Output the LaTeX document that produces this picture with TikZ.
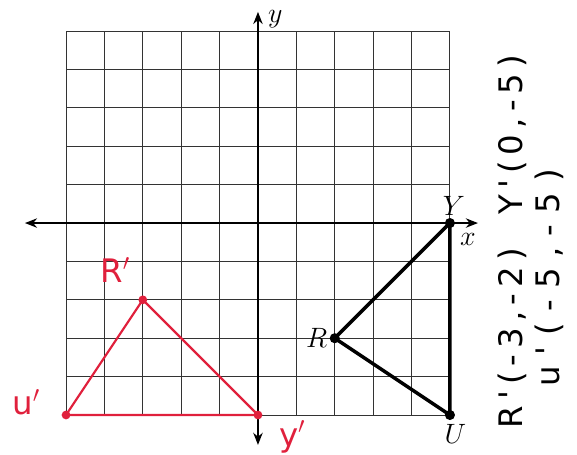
\documentclass[tikz,border=0pt]{standalone}
\usepackage{fontspec}
\newfontfamily\handfont{DejaVu Sans}
\newfontfamily\notefont[LetterSpace=19]{DejaVu Sans}
\usetikzlibrary{arrows.meta, positioning}
\definecolor{inkred}{HTML}{E0203C}
\definecolor{gridgray}{HTML}{333333}

\begin{document}
\begin{tikzpicture}[
    line width=0.9pt,
    gridln/.style={draw=gridgray, line width=0.7pt},
    axis/.style={black, line width=1.1pt,
                 {Stealth[length=9pt, width=7pt]}-{Stealth[length=9pt, width=7pt]}},
    dot/.style={circle, fill=black, inner sep=0pt, minimum size=7.5pt},
    rdot/.style={circle, fill=inkred, inner sep=0pt, minimum size=6.5pt},
    ptlbl/.style={font=\huge, inner sep=1pt},
    hand/.style={text=inkred, font=\handfont\fontsize{24}{26}\selectfont},
    note/.style={rotate=90, font=\notefont\fontsize{24}{26}\selectfont},
  ]
  \useasboundingbox (-6.72,-6.02) rectangle (8.31,5.81);

  % ===== grid and axes =====
  \foreach \i in {-5,...,5} {
    \draw[gridln] (\i,-5) -- (\i,5);
    \draw[gridln] (-5,\i) -- (5,\i);
  }
  \coordinate (xl) at (-6.07,0);
  \coordinate (xr) at (5.73,0);
  \coordinate (yb) at (0,-5.78);
  \coordinate (yt) at (0,5.5);
  \draw[axis] (xl) -- (xr);
  \draw[axis] (yb) -- (yt);
  \node[ptlbl] (xlbl) at (5.47,-0.44) {$x$};
  \node[ptlbl] (ylbl) at (0.45,5.3) {$y$};

  % ===== triangle RYU =====
  \node[dot] (Y) at (5,0) {};
  \node[dot] (R) at (2,-3) {};
  \node[dot] (U) at (5,-5) {};
  \draw[line width=2.6pt, line join=round] (Y.center) -- (R.center) -- (U.center) -- cycle;
  \node[ptlbl, above=0pt of Y, xshift=3pt] (Ylbl) {$Y$};
  \node[ptlbl, left=0pt of R] (Rlbl) {$R$};
  \node[ptlbl, below=1pt of U, xshift=4pt] (Ulbl) {$U$};

  % ===== image triangle (red) =====
  \node[rdot] (Uq) at (-5,-5) {};
  \node[rdot] (Rq) at (-3,-2) {};
  \node[rdot] (Yq) at (0,-5) {};
  \draw[inkred, line width=1.6pt, line join=round] (Uq.center) -- (Rq.center) -- (Yq.center) -- cycle;
  \node[hand] (Rqlbl) at (-3.72,-1.22) {R$'$};
  \node[hand] (Uqlbl) at (-6.04,-4.66) {u$'$};
  \node[hand] (Yqlbl) at (0.89,-5.57) {y$'$};

  % ===== coordinates, written sideways =====
  \node[note] (nR) at (6.62,-3.0) {R'(-3,-2)};
  \node[note] (nY) at (6.62,2.3) {Y'(0,-5)};
  \node[note] (nU) at (7.58,-1.43) {\addfontfeature{LetterSpace=34}u'(-5,-5)};
\end{tikzpicture}
\end{document}
